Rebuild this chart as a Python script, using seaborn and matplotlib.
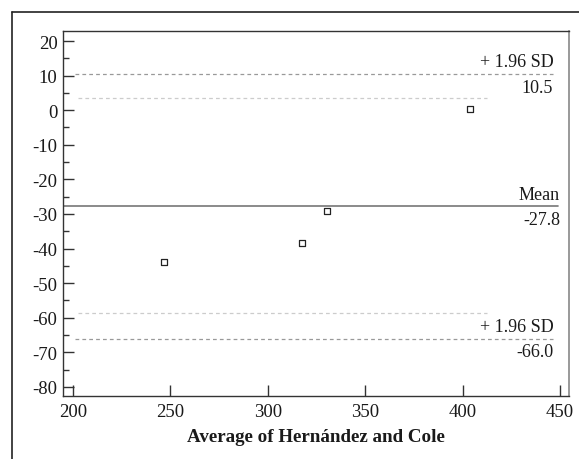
import numpy as np
import pandas as pd
import matplotlib
matplotlib.use("Agg")
import matplotlib.pyplot as plt
import seaborn as sns
from matplotlib.lines import Line2D
from matplotlib.ticker import MultipleLocator

# Bland-Altman data
avg_vals = [246.8, 317.7, 330.5, 404.0]
diff_vals = [-43.9, -38.4, -29.0, 0.3]
mean_diff = -27.8
upper_loa = 10.5
lower_loa = -66.0
ci_upper = 3.5
ci_lower = -58.7

x_ticks = [200, 250, 300, 350, 400, 450]
y_ticks = [20, 10, 0, -10, -20, -30, -40, -50, -60, -70, -80]

sns.set_style("white")
plt.rcParams['font.family'] = ['Liberation Serif', 'DejaVu Serif']
plt.rcParams['axes.unicode_minus'] = False

df = pd.DataFrame({'avg': avg_vals, 'diff': diff_vals})

fig = plt.figure(figsize=(5.79, 4.6), dpi=100)
ax = fig.add_axes([0.1088, 0.137, 0.874, 0.7935])

sns.scatterplot(data=df, x='avg', y='diff', marker='s', s=24,
                facecolor='white', edgecolor='#222222', linewidth=0.9, ax=ax, zorder=3)

# reference lines
ax.axhline(mean_diff, xmin=0.0, xmax=0.978, color='#777777', lw=1.2)
ax.axhline(upper_loa, xmin=0.024, xmax=0.968, color='#999999', lw=0.9, ls=(0, (3, 2.5)))
ax.axhline(lower_loa, xmin=0.024, xmax=0.968, color='#999999', lw=0.9, ls=(0, (3, 2.5)))
ax.axhline(ci_upper, xmin=0.03, xmax=0.838, color='#cccccc', lw=0.9, ls=(0, (3, 2.5)))
ax.axhline(ci_lower, xmin=0.03, xmax=0.838, color='#cccccc', lw=0.9, ls=(0, (3, 2.5)))

tx = 446.5
fs = 13
ax.text(tx, upper_loa + 1.0, '+ 1.96 SD', ha='right', va='bottom', fontsize=fs, color='#1a1a1a')
ax.text(tx, upper_loa - 1.4, f'{upper_loa:.1f}', ha='right', va='top', fontsize=fs, color='#1a1a1a')
ax.text(tx + 3.5, mean_diff + 1.0, 'Mean', ha='right', va='bottom', fontsize=fs, color='#1a1a1a')
ax.text(tx + 3.5, mean_diff - 1.4, f'{mean_diff:.1f}', ha='right', va='top', fontsize=fs, color='#1a1a1a')
ax.text(tx, lower_loa + 1.0, '+ 1.96 SD', ha='right', va='bottom', fontsize=fs, color='#1a1a1a')
ax.text(tx, lower_loa - 1.4, f'{lower_loa:.1f}', ha='right', va='top', fontsize=fs, color='#1a1a1a')

ax.set_xlim(194.9, 454.6)
ax.set_ylim(-82.6, 22.9)
ax.set_xticks(x_ticks)
ax.set_yticks(y_ticks)
ax.yaxis.set_minor_locator(MultipleLocator(5))
ax.tick_params(axis='both', which='major', direction='in', length=8, width=1,
               color='#333333', labelsize=13.5, labelcolor='#1a1a1a',
               left=True, bottom=True)
ax.tick_params(axis='y', which='minor', direction='in', length=4, width=1, color='#333333', left=True)
ax.tick_params(axis='x', pad=5)
ax.tick_params(axis='y', pad=4)

ax.set_xlabel('Average of Hernández and Cole', fontsize=13.7, fontweight='bold',
              color='#1a1a1a', labelpad=6)
ax.set_ylabel('')

for side in ['left', 'bottom', 'top']:
    ax.spines[side].set_color('#333333')
    ax.spines[side].set_linewidth(1)
ax.spines['right'].set_color('#888888')
ax.spines['right'].set_linewidth(1.2)

# outer frame lines
fig.add_artist(Line2D([0.0207, 1.0], [0.9717, 0.9717], color='#222222', lw=1.2))
fig.add_artist(Line2D([0.0207, 0.0207], [0.0, 0.9717], color='#222222', lw=1.2))

fig.savefig('out.png', dpi=100)
